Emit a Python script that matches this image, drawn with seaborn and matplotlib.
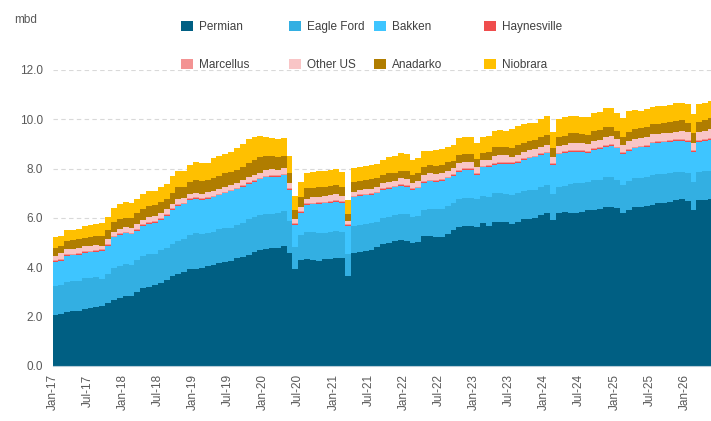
import numpy as np
import pandas as pd
import matplotlib
matplotlib.use("Agg")
import matplotlib.pyplot as plt
from matplotlib.patches import Patch
import seaborn as sns

#%% data (mbd, monthly from Jan-17)
regions = ["Permian", "Eagle Ford", "Bakken", "Haynesville",
           "Marcellus", "Other US", "Anadarko", "Niobrara"]
colors = ["#005f83", "#33afe2", "#3ec5ff", "#ef4d4d",
          "#f39393", "#f9c5c6", "#b07d00", "#ffc000"]

tick_labels = ["Jan-17", "Jul-17", "Jan-18", "Jul-18", "Jan-19", "Jul-19",
               "Jan-20", "Jul-20", "Jan-21", "Jul-21", "Jan-22", "Jul-22",
               "Jan-23", "Jul-23", "Jan-24", "Jul-24", "Jan-25", "Jul-25",
               "Jan-26"]

permian = [
    2.08, 2.11, 2.19, 2.22, 2.24, 2.32, 2.35, 2.40, 2.44, 2.54,
    2.67, 2.77, 2.84, 2.85, 3.00, 3.16, 3.22, 3.27, 3.38, 3.49,
    3.65, 3.74, 3.82, 3.92, 3.95, 3.99, 4.05, 4.09, 4.19, 4.23,
    4.27, 4.36, 4.43, 4.51, 4.61, 4.70, 4.76, 4.78, 4.80, 4.88,
    4.57, 3.92, 4.28, 4.32, 4.30, 4.27, 4.32, 4.35, 4.36, 4.39,
    3.65, 4.57, 4.63, 4.67, 4.70, 4.81, 4.93, 5.00, 5.08, 5.11,
    5.08, 4.97, 5.04, 5.27, 5.27, 5.24, 5.24, 5.35, 5.51, 5.62,
    5.68, 5.68, 5.65, 5.78, 5.69, 5.85, 5.85, 5.82, 5.76, 5.85,
    5.95, 5.96, 6.01, 6.12, 6.22, 5.92, 6.19, 6.23, 6.22, 6.22,
    6.26, 6.32, 6.32, 6.36, 6.46, 6.46, 6.39, 6.22, 6.32, 6.43,
    6.46, 6.49, 6.53, 6.59, 6.62, 6.66, 6.73, 6.78, 6.70, 6.32,
    6.73, 6.73, 6.76]
eagle_ford = [
    1.18, 1.17, 1.22, 1.21, 1.20, 1.23, 1.23, 1.19, 1.07, 1.20,
    1.29, 1.30, 1.31, 1.24, 1.28, 1.30, 1.31, 1.27, 1.32, 1.28,
    1.29, 1.34, 1.31, 1.39, 1.43, 1.35, 1.35, 1.36, 1.35, 1.35,
    1.34, 1.34, 1.38, 1.44, 1.42, 1.42, 1.40, 1.40, 1.40, 1.40,
    1.32, 0.92, 1.03, 1.13, 1.15, 1.13, 1.08, 1.07, 1.13, 1.06,
    0.89, 1.11, 1.09, 1.09, 1.08, 1.04, 1.06, 1.05, 1.04, 1.05,
    1.07, 1.06, 1.04, 1.05, 1.11, 1.11, 1.11, 1.14, 1.08, 1.14,
    1.12, 1.12, 1.11, 1.11, 1.15, 1.15, 1.15, 1.15, 1.17, 1.15,
    1.14, 1.17, 1.12, 1.15, 1.12, 1.05, 1.05, 1.07, 1.14, 1.18,
    1.17, 1.15, 1.22, 1.18, 1.22, 1.19, 1.15, 1.12, 1.19, 1.18,
    1.17, 1.19, 1.21, 1.19, 1.16, 1.18, 1.13, 1.10, 1.11, 1.15,
    1.15, 1.17, 1.16]
bakken = [
    0.97, 0.99, 1.05, 1.06, 1.07, 1.03, 1.03, 1.05, 1.15, 1.14,
    1.26, 1.24, 1.23, 1.25, 1.19, 1.22, 1.24, 1.26, 1.22, 1.31,
    1.38, 1.40, 1.42, 1.42, 1.40, 1.39, 1.38, 1.39, 1.38, 1.42,
    1.47, 1.46, 1.46, 1.43, 1.44, 1.45, 1.49, 1.50, 1.48, 1.45,
    1.24, 0.88, 0.91, 1.08, 1.10, 1.17, 1.19, 1.20, 1.17, 1.17,
    1.14, 1.16, 1.17, 1.16, 1.17, 1.15, 1.14, 1.14, 1.12, 1.14,
    1.12, 1.10, 1.12, 1.11, 1.11, 1.12, 1.15, 1.12, 1.11, 1.12,
    1.15, 1.15, 0.98, 1.16, 1.24, 1.15, 1.19, 1.22, 1.26, 1.24,
    1.26, 1.29, 1.33, 1.28, 1.28, 1.18, 1.34, 1.35, 1.33, 1.29,
    1.26, 1.18, 1.22, 1.26, 1.21, 1.27, 1.28, 1.25, 1.22, 1.21,
    1.23, 1.21, 1.29, 1.27, 1.29, 1.25, 1.27, 1.25, 1.28, 1.22,
    1.21, 1.23, 1.24]
haynesville = [
    0.03, 0.03, 0.03, 0.03, 0.03, 0.03, 0.03, 0.03, 0.03, 0.03,
    0.03, 0.03, 0.03, 0.03, 0.03, 0.03, 0.03, 0.03, 0.03, 0.03,
    0.03, 0.03, 0.03, 0.03, 0.03, 0.03, 0.03, 0.03, 0.03, 0.03,
    0.03, 0.03, 0.03, 0.03, 0.03, 0.03, 0.03, 0.03, 0.03, 0.03,
    0.03, 0.02, 0.03, 0.03, 0.03, 0.03, 0.03, 0.03, 0.03, 0.03,
    0.02, 0.03, 0.03, 0.03, 0.03, 0.03, 0.03, 0.03, 0.03, 0.03,
    0.03, 0.03, 0.03, 0.03, 0.03, 0.03, 0.03, 0.03, 0.03, 0.03,
    0.03, 0.03, 0.03, 0.03, 0.03, 0.03, 0.03, 0.03, 0.03, 0.03,
    0.03, 0.03, 0.03, 0.03, 0.03, 0.03, 0.03, 0.03, 0.03, 0.03,
    0.03, 0.03, 0.03, 0.03, 0.03, 0.03, 0.03, 0.03, 0.03, 0.03,
    0.03, 0.03, 0.03, 0.03, 0.03, 0.03, 0.03, 0.03, 0.03, 0.03,
    0.03, 0.03, 0.03]
marcellus = [
    0.04, 0.04, 0.04, 0.04, 0.04, 0.04, 0.04, 0.04, 0.04, 0.04,
    0.04, 0.04, 0.04, 0.04, 0.04, 0.04, 0.04, 0.04, 0.04, 0.04,
    0.04, 0.04, 0.04, 0.04, 0.04, 0.04, 0.04, 0.04, 0.04, 0.04,
    0.04, 0.04, 0.04, 0.04, 0.04, 0.04, 0.04, 0.04, 0.04, 0.04,
    0.04, 0.04, 0.04, 0.04, 0.04, 0.04, 0.04, 0.04, 0.04, 0.04,
    0.04, 0.04, 0.04, 0.04, 0.04, 0.04, 0.04, 0.04, 0.04, 0.04,
    0.04, 0.04, 0.04, 0.04, 0.04, 0.04, 0.04, 0.04, 0.04, 0.04,
    0.04, 0.04, 0.04, 0.04, 0.04, 0.04, 0.04, 0.04, 0.04, 0.04,
    0.04, 0.04, 0.04, 0.04, 0.04, 0.04, 0.04, 0.04, 0.04, 0.04,
    0.04, 0.04, 0.04, 0.04, 0.04, 0.04, 0.04, 0.04, 0.04, 0.04,
    0.04, 0.04, 0.04, 0.04, 0.04, 0.04, 0.04, 0.04, 0.04, 0.04,
    0.04, 0.04, 0.04]
other_us = [
    0.16, 0.23, 0.21, 0.18, 0.19, 0.20, 0.20, 0.20, 0.15, 0.19,
    0.16, 0.19, 0.17, 0.18, 0.22, 0.18, 0.19, 0.20, 0.20, 0.20,
    0.19, 0.21, 0.20, 0.17, 0.18, 0.17, 0.19, 0.18, 0.20, 0.20,
    0.19, 0.20, 0.20, 0.20, 0.19, 0.20, 0.23, 0.22, 0.20, 0.21,
    0.20, 0.16, 0.14, 0.16, 0.22, 0.22, 0.23, 0.24, 0.24, 0.20,
    0.14, 0.16, 0.17, 0.17, 0.17, 0.17, 0.20, 0.20, 0.20, 0.24,
    0.25, 0.23, 0.22, 0.24, 0.25, 0.24, 0.24, 0.24, 0.24, 0.29,
    0.26, 0.26, 0.24, 0.23, 0.20, 0.29, 0.28, 0.28, 0.23, 0.24,
    0.27, 0.27, 0.25, 0.27, 0.27, 0.27, 0.27, 0.24, 0.28, 0.29,
    0.27, 0.28, 0.30, 0.29, 0.34, 0.33, 0.30, 0.30, 0.33, 0.30,
    0.30, 0.31, 0.29, 0.28, 0.29, 0.30, 0.30, 0.34, 0.34, 0.27,
    0.34, 0.34, 0.36]
anadarko = [
    0.34, 0.30, 0.34, 0.37, 0.36, 0.35, 0.35, 0.36, 0.38, 0.37,
    0.39, 0.39, 0.39, 0.40, 0.43, 0.45, 0.46, 0.46, 0.46, 0.43,
    0.45, 0.49, 0.45, 0.50, 0.51, 0.53, 0.50, 0.52, 0.51, 0.54,
    0.54, 0.51, 0.54, 0.57, 0.62, 0.62, 0.56, 0.54, 0.54, 0.50,
    0.41, 0.40, 0.41, 0.44, 0.36, 0.38, 0.38, 0.37, 0.37, 0.38,
    0.30, 0.40, 0.38, 0.38, 0.38, 0.37, 0.34, 0.35, 0.33, 0.30,
    0.33, 0.31, 0.32, 0.34, 0.34, 0.33, 0.34, 0.36, 0.31, 0.31,
    0.31, 0.31, 0.33, 0.30, 0.34, 0.35, 0.35, 0.35, 0.33, 0.41,
    0.36, 0.37, 0.38, 0.41, 0.40, 0.33, 0.38, 0.38, 0.39, 0.38,
    0.37, 0.36, 0.41, 0.41, 0.40, 0.38, 0.35, 0.31, 0.37, 0.40,
    0.40, 0.40, 0.41, 0.41, 0.41, 0.42, 0.44, 0.43, 0.36, 0.43,
    0.40, 0.43, 0.45]
niobrara = [
    0.42, 0.40, 0.42, 0.40, 0.44, 0.46, 0.47, 0.49, 0.52, 0.54,
    0.55, 0.61, 0.64, 0.62, 0.58, 0.58, 0.60, 0.58, 0.59, 0.60,
    0.66, 0.66, 0.63, 0.68, 0.72, 0.72, 0.70, 0.81, 0.81, 0.78,
    0.81, 0.88, 0.92, 0.97, 0.95, 0.86, 0.76, 0.72, 0.71, 0.72,
    0.70, 0.54, 0.63, 0.64, 0.68, 0.66, 0.63, 0.65, 0.63, 0.58,
    0.54, 0.54, 0.57, 0.58, 0.58, 0.58, 0.61, 0.65, 0.69, 0.71,
    0.67, 0.61, 0.61, 0.62, 0.57, 0.65, 0.63, 0.58, 0.64, 0.68,
    0.68, 0.71, 0.65, 0.65, 0.63, 0.68, 0.68, 0.65, 0.77, 0.77,
    0.75, 0.71, 0.68, 0.70, 0.77, 0.68, 0.70, 0.74, 0.70, 0.70,
    0.71, 0.72, 0.73, 0.74, 0.75, 0.75, 0.73, 0.77, 0.85, 0.79,
    0.72, 0.73, 0.71, 0.73, 0.70, 0.70, 0.71, 0.70, 0.76, 0.75,
    0.72, 0.70, 0.71]

series = [permian, eagle_ford, bakken, haynesville,
          marcellus, other_us, anadarko, niobrara]

#%% long table for seaborn
frames = []
for name, vals in zip(regions, series):
    frames.append(pd.DataFrame({"month": np.arange(len(vals)),
                                "region": name, "mbd": vals}))
df = pd.concat(frames, ignore_index=True)
palette = dict(zip(regions, colors))

#%% draw
sns.set_theme(style="white")
plt.rcParams["font.family"] = ["Liberation Sans", "DejaVu Sans"]

W, H = 711, 421
fig = plt.figure(figsize=(W / 100, H / 100), dpi=100)
ax = fig.add_axes([52.5 / W, 1 - 366 / H, 1 - 52.5 / W, (366 - 70) / H])

# hue order reversed so Permian ends up at the bottom of the stack
sns.histplot(data=df, x="month", weights="mbd", hue="region",
             hue_order=regions[::-1], multiple="stack", discrete=True,
             element="step", palette=palette, alpha=1, linewidth=0,
             legend=False, ax=ax)

n = len(permian)
ax.set_xlim(-0.5, n - 1)
ax.set_ylim(0, 12)
yt = np.arange(0, 12.1, 2)
ax.set_yticks(yt)
ax.set_yticklabels([f"{v:.1f}" for v in yt])
ax.set_xticks(np.arange(0, n, 6)[:len(tick_labels)] - 0.5)
ax.set_xticklabels(tick_labels, rotation=90)
ax.set_xlabel("")
ax.set_ylabel("")
ax.grid(axis="y", color="#d9d9d9", linestyle=(0, (4, 3)), linewidth=0.8)
ax.grid(axis="x", visible=False)
ax.set_axisbelow(True)
for s in ["top", "right", "left"]:
    ax.spines[s].set_visible(False)
ax.spines["bottom"].set_color("#b8cdd9")
ax.spines["bottom"].set_linewidth(0.8)
ax.tick_params(axis="both", length=0, colors="#595959", labelsize=8.5)
ax.tick_params(axis="y", pad=7)
ax.tick_params(axis="x", pad=6)

fig.text(14 / W, 1 - 20 / H, "mbd", fontsize=8.5, color="#595959",
         va="center", ha="left")

cols = [["Permian", "Marcellus"], ["Eagle Ford", "Other US"],
        ["Bakken", "Anadarko"], ["Haynesville", "Niobrara"]]
xs = [181, 289, 374, 484]
for names, x in zip(cols, xs):
    handles = [Patch(facecolor=palette[nm], edgecolor="none") for nm in names]
    fig.legend(handles, names, loc="upper left",
               bbox_to_anchor=(x / W, 1 - 20.5 / H), frameon=False,
               borderpad=0, borderaxespad=0, handlelength=1.0,
               handleheight=1.0, handletextpad=0.55, labelspacing=2.2,
               fontsize=8.5, labelcolor="#404040")

fig.savefig("out.png", dpi=100)
